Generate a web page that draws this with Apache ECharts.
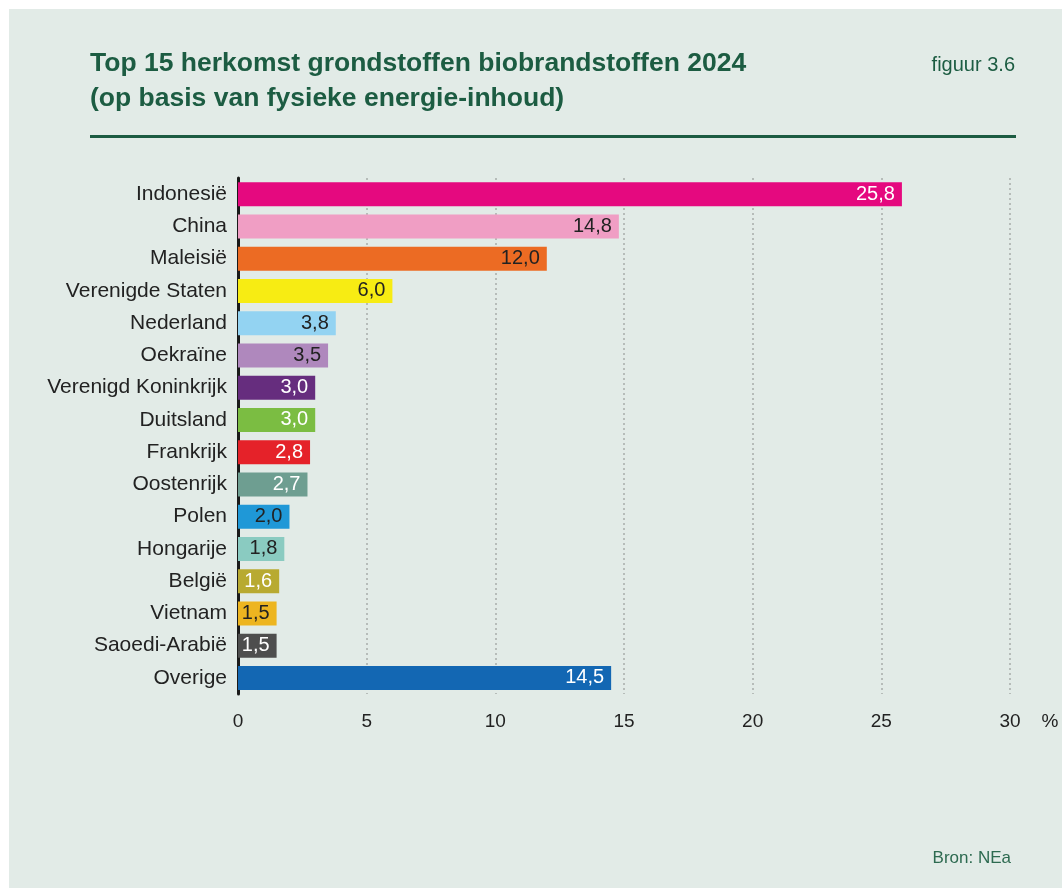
<!DOCTYPE html>
<html>
<head>
<meta charset="utf-8">
<script src="https://cdn.jsdelivr.net/npm/echarts@6/dist/echarts.min.js"></script>
<style>
  html, body { margin: 0; padding: 0; background: #ffffff; }
  #chart { width: 1062px; height: 888px; }
</style>
</head>
<body>
<div id="chart"></div>
<script>
// data
const countries = [
    'Indonesië', 'China', 'Maleisië', 'Verenigde Staten', 'Nederland', 'Oekraïne',
    'Verenigd Koninkrijk', 'Duitsland', 'Frankrijk', 'Oostenrijk', 'Polen',
    'Hongarije', 'België', 'Vietnam', 'Saoedi-Arabië', 'Overige'
];
const shares = [25.8, 14.8, 12.0, 6.0, 3.8, 3.5, 3.0, 3.0, 2.8, 2.7, 2.0, 1.8, 1.6, 1.5, 1.5, 14.5];
const xTicks = [0, 5, 10, 15, 20, 25, 30];

// styles
const barColors = [
    '#E5097F', '#F09EC4', '#EC6B23', '#F7EC13', '#93D3F2', '#AF88BD',
    '#662D7E', '#7BBD42', '#E52229', '#6E9E91', '#1F98D7',
    '#8ACBC1', '#B8AA31', '#EDB520', '#4E4E4E', '#1367B3'
];
const labelColors = [
    '#ffffff', '#222222', '#222222', '#222222', '#222222', '#222222',
    '#ffffff', '#ffffff', '#ffffff', '#ffffff', '#222222',
    '#222222', '#ffffff', '#222222', '#ffffff', '#ffffff'
];
const green = '#1C5C42';
const font = "'Liberation Sans', Arial, sans-serif";

const chart = echarts.init(document.getElementById('chart'));
chart.setOption({
    animation: false,
    backgroundColor: '#ffffff',
    textStyle: { fontFamily: font },
    title: {
        text: 'Top 15 herkomst grondstoffen biobrandstoffen 2024\n(op basis van fysieke energie-inhoud)',
        left: 90,
        top: 46,
        padding: 0,
        textStyle: { color: green, fontSize: 26.5, fontWeight: 'bold', lineHeight: 35, fontFamily: font },
    },
    graphic: [
        {
            type: 'rect', z: -10, silent: true,
            shape: { x: 9, y: 9, width: 1062, height: 888 },
            style: { fill: '#E2EBE7' },
        },
        {
            type: 'line', silent: true,
            shape: { x1: 90, y1: 136.5, x2: 1016, y2: 136.5 },
            style: { stroke: green, lineWidth: 3 },
        },
        {
            type: 'text', silent: true, x: 1015, y: 65,
            style: { text: 'figuur 3.6', fill: green, font: '20px ' + font, align: 'right', verticalAlign: 'middle' },
        },
        {
            type: 'text', silent: true, x: 1011, y: 858,
            style: { text: 'Bron: NEa', fill: '#2D6A50', font: '17px ' + font, align: 'right', verticalAlign: 'middle' },
        },
        {
            type: 'text', silent: true, x: 1050, y: 722,
            style: { text: '%', fill: '#222222', font: '19px ' + font, align: 'center', verticalAlign: 'middle' },
        },
    ],
    grid: { left: 238, top: 178, width: 772, height: 516, containLabel: false },
    xAxis: {
        type: 'value',
        min: xTicks[0],
        max: xTicks[xTicks.length - 1],
        interval: 5,
        axisLine: { show: false },
        axisTick: { show: false },
        axisLabel: { color: '#222222', fontSize: 19, margin: 18 },
        splitLine: {
            show: true,
            lineStyle: { color: '#A8ADAA', width: 1.5, type: [2, 3] },
        },
    },
    yAxis: {
        type: 'category',
        inverse: true,
        data: countries,
        axisLine: { show: true, lineStyle: { color: '#1A1A1A', width: 3 } },
        axisTick: { show: false },
        axisLabel: { color: '#222222', fontSize: 21, margin: 11 },
        splitLine: { show: false },
    },
    series: [
        {
            type: 'bar',
            barWidth: 24,
            data: shares.map((v, i) => ({
                value: v,
                itemStyle: { color: barColors[i] },
                label: { color: labelColors[i] },
            })),
            label: {
                show: true,
                position: 'insideRight',
                distance: 7,
                fontSize: 20,
                formatter: (p) => p.value.toFixed(1).replace('.', ','),
            },
        },
    ],
});
</script>
</body>
</html>
